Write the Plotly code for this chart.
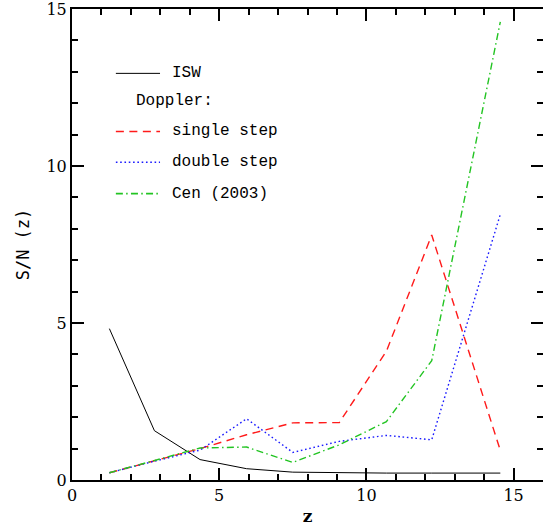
import plotly.graph_objects as go

# data
z = [1.27, 2.80, 4.35, 5.93, 7.50, 9.08, 10.68, 12.22, 14.55]
isw = [4.82, 1.57, 0.65, 0.36, 0.25, 0.23, 0.22, 0.22, 0.22]
single_step = [0.23, 0.62, 1.00, 1.44, 1.82, 1.83, 4.10, 7.80, 0.94]
double_step = [0.23, 0.60, 0.95, 1.95, 0.88, 1.23, 1.42, 1.28, 8.46]
cen2003 = [0.23, 0.62, 1.02, 1.05, 0.56, 1.12, 1.86, 3.80, 14.59]

x_ticks = [0, 5, 10, 15]
y_ticks = [0, 5, 10, 15]

RED = "#ff1a1a"
BLUE = "#1a1aff"
GREEN = "#22c422"
DASH_RED = "8px,5.5px"
DASH_BLUE = "1.6px,2.7px"
DASH_GREEN = "7px,3.3px,1.5px,3.3px"
KEYFONT = "Liberation Mono, Courier New, monospace"

fig = go.Figure()
fig.add_trace(go.Scatter(x=z, y=isw, mode="lines", line=dict(color="black", width=1), name="ISW"))
fig.add_trace(go.Scatter(x=z, y=single_step, mode="lines",
                         line=dict(color=RED, width=1.4, dash=DASH_RED), name="single step"))
fig.add_trace(go.Scatter(x=z, y=double_step, mode="lines",
                         line=dict(color=BLUE, width=1.4, dash=DASH_BLUE), name="double step"))
fig.add_trace(go.Scatter(x=z, y=cen2003, mode="lines",
                         line=dict(color=GREEN, width=1.4, dash=DASH_GREEN), name="Cen (2003)"))
# invisible trace to activate the right-hand tick axis
fig.add_trace(go.Scatter(x=[z[0]], y=[isw[-1]], yaxis="y2", mode="markers",
                         marker=dict(opacity=0), hoverinfo="skip", showlegend=False))

# hand-drawn key
key_x0, key_x1, key_tx = 1.49, 2.99, 3.33
key_rows = [
    ("ISW", 12.95, "black", "solid", 1.0),
    ("single step", 11.1, RED, DASH_RED, 1.6),
    ("double step", 10.12, BLUE, DASH_BLUE, 1.6),
    ("Cen (2003)", 9.12, GREEN, DASH_GREEN, 1.6),
]
for label, yy, col, dash, w in key_rows:
    fig.add_shape(type="line", x0=key_x0, x1=key_x1, y0=yy, y1=yy, xref="x", yref="y",
                  line=dict(color=col, width=w, dash=dash))
    fig.add_annotation(x=key_tx, y=yy, text=label, showarrow=False, xanchor="left", yanchor="middle",
                       font=dict(family=KEYFONT, size=16, color="black"))
fig.add_annotation(x=2.09, y=12.07, text="Doppler:", showarrow=False, xanchor="left", yanchor="middle",
                   font=dict(family=KEYFONT, size=16, color="black"))

tickfont = dict(family="DejaVu Serif", size=16, color="black")
fig.update_layout(
    width=543, height=527,
    margin=dict(l=72, r=0, t=7, b=47),
    plot_bgcolor="white", paper_bgcolor="white",
    showlegend=False,
    xaxis=dict(range=[0, 16], tickvals=x_ticks, ticktext=[str(v) for v in x_ticks],
               ticks="inside", ticklen=12, tickwidth=1.5, tickcolor="black",
               minor=dict(ticks="inside", ticklen=6, tickwidth=1.5, dtick=1, tick0=0, tickcolor="black"),
               showline=True, linecolor="black", linewidth=2, mirror="ticks",
               showgrid=False, zeroline=False, tickfont=tickfont, ticklabeloverflow="allow",
               title=dict(text="<b>z</b>", font=dict(family="DejaVu Serif", size=17, color="black"), standoff=6)),
    yaxis=dict(range=[0, 15], tickvals=y_ticks, ticktext=[str(v) for v in y_ticks],
               ticks="inside", ticklen=12, tickwidth=1.5, tickcolor="black",
               minor=dict(ticks="inside", ticklen=6, tickwidth=1.5, dtick=1, tick0=0, tickcolor="black"),
               showline=True, linecolor="black", linewidth=2,
               showgrid=False, zeroline=False, tickfont=tickfont, ticklabeloverflow="allow",
               title=dict(text="S/N (z)", font=dict(family="DejaVu Sans Mono", size=17, color="black"), standoff=12)),
    yaxis2=dict(range=[0, 15], overlaying="y", side="right", anchor="x",
                tickvals=y_ticks, showticklabels=False,
                ticks="inside", ticklen=12, tickwidth=1.5, tickcolor="black",
                minor=dict(ticks="inside", ticklen=6, tickwidth=1.5, dtick=1, tick0=0, tickcolor="black"),
                showline=False, showgrid=False, zeroline=False),
)

fig.write_html("out.html", config={"displayModeBar": False},
               post_script="document.body.style.margin='0px';")
